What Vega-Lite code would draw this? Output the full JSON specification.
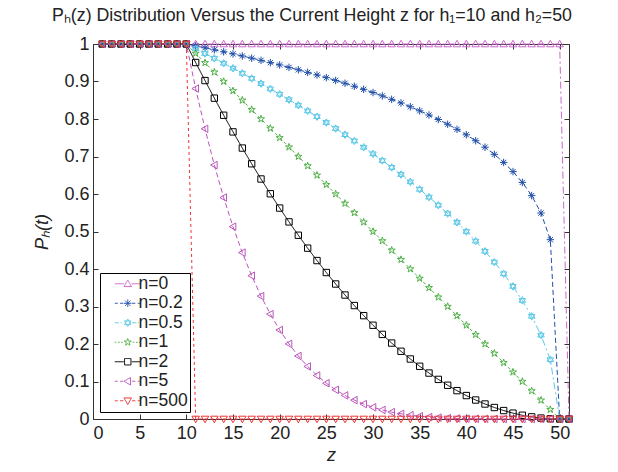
{
"$schema":"https://vega.github.io/schema/vega-lite/v6.json",
"width":476,"height":375,
"autosize":{"type":"none"},
"padding":{"left":93,"top":44,"right":49,"bottom":53},
"background":"white",
"config":{
 "font":"Liberation Sans",
 "view":{"stroke":null},
 "axis":{"grid":false,"domainColor":"#333333","tickColor":"#333333","labelColor":"#222222","labelFontSize":18,"labelFont":"Liberation Sans","tickSize":-5,"titleFont":"Liberation Sans","titleFontSize":18,"titleFontWeight":"normal","titleColor":"#222222","titleFontStyle":"italic"},
 "legend":{"orient":"bottom-left","offset":7,"fillColor":"white","strokeColor":"black","padding":2,"labelFontSize":17.5,"labelFont":"Liberation Sans","labelColor":"#222222","symbolSize":64,"symbolStrokeWidth":1,"symbolOffset":17,"labelOffset":2,"rowPadding":0.5,"cornerRadius":0}
},
"title":{"text":"Pₕ(z) Distribution Versus the Current Height z for h₁=10 and h₂=50","fontSize":17.8,"fontWeight":"normal","font":"Liberation Sans","anchor":"middle","frame":"group","dx":-19,"offset":10,"color":"#222222"},
"data":{"values":[
{"n":"n=0","z":1,"p":1},{"n":"n=0","z":2,"p":1},{"n":"n=0","z":3,"p":1},{"n":"n=0","z":4,"p":1},{"n":"n=0","z":5,"p":1},{"n":"n=0","z":6,"p":1},{"n":"n=0","z":7,"p":1},{"n":"n=0","z":8,"p":1},{"n":"n=0","z":9,"p":1},{"n":"n=0","z":10,"p":1},
{"n":"n=0","z":11,"p":1},{"n":"n=0","z":12,"p":1},{"n":"n=0","z":13,"p":1},{"n":"n=0","z":14,"p":1},{"n":"n=0","z":15,"p":1},{"n":"n=0","z":16,"p":1},{"n":"n=0","z":17,"p":1},{"n":"n=0","z":18,"p":1},{"n":"n=0","z":19,"p":1},{"n":"n=0","z":20,"p":1},
{"n":"n=0","z":21,"p":1},{"n":"n=0","z":22,"p":1},{"n":"n=0","z":23,"p":1},{"n":"n=0","z":24,"p":1},{"n":"n=0","z":25,"p":1},{"n":"n=0","z":26,"p":1},{"n":"n=0","z":27,"p":1},{"n":"n=0","z":28,"p":1},{"n":"n=0","z":29,"p":1},{"n":"n=0","z":30,"p":1},
{"n":"n=0","z":31,"p":1},{"n":"n=0","z":32,"p":1},{"n":"n=0","z":33,"p":1},{"n":"n=0","z":34,"p":1},{"n":"n=0","z":35,"p":1},{"n":"n=0","z":36,"p":1},{"n":"n=0","z":37,"p":1},{"n":"n=0","z":38,"p":1},{"n":"n=0","z":39,"p":1},{"n":"n=0","z":40,"p":1},
{"n":"n=0","z":41,"p":1},{"n":"n=0","z":42,"p":1},{"n":"n=0","z":43,"p":1},{"n":"n=0","z":44,"p":1},{"n":"n=0","z":45,"p":1},{"n":"n=0","z":46,"p":1},{"n":"n=0","z":47,"p":1},{"n":"n=0","z":48,"p":1},{"n":"n=0","z":49,"p":1},{"n":"n=0","z":50,"p":1},{"n":"n=0","z":51,"p":0},
{"n":"n=0.2","z":1,"p":1},{"n":"n=0.2","z":2,"p":1},{"n":"n=0.2","z":3,"p":1},{"n":"n=0.2","z":4,"p":1},{"n":"n=0.2","z":5,"p":1},{"n":"n=0.2","z":6,"p":1},{"n":"n=0.2","z":7,"p":1},{"n":"n=0.2","z":8,"p":1},{"n":"n=0.2","z":9,"p":1},{"n":"n=0.2","z":10,"p":1},
{"n":"n=0.2","z":11,"p":0.99495},{"n":"n=0.2","z":12,"p":0.98979},{"n":"n=0.2","z":13,"p":0.98453},{"n":"n=0.2","z":14,"p":0.97915},{"n":"n=0.2","z":15,"p":0.97365},{"n":"n=0.2","z":16,"p":0.96802},{"n":"n=0.2","z":17,"p":0.96226},{"n":"n=0.2","z":18,"p":0.95635},{"n":"n=0.2","z":19,"p":0.9503},{"n":"n=0.2","z":20,"p":0.94409},
{"n":"n=0.2","z":21,"p":0.93771},{"n":"n=0.2","z":22,"p":0.93115},{"n":"n=0.2","z":23,"p":0.9244},{"n":"n=0.2","z":24,"p":0.91745},{"n":"n=0.2","z":25,"p":0.91028},{"n":"n=0.2","z":26,"p":0.90288},{"n":"n=0.2","z":27,"p":0.89523},{"n":"n=0.2","z":28,"p":0.8873},{"n":"n=0.2","z":29,"p":0.87909},{"n":"n=0.2","z":30,"p":0.87055},
{"n":"n=0.2","z":31,"p":0.86167},{"n":"n=0.2","z":32,"p":0.8524},{"n":"n=0.2","z":33,"p":0.84271},{"n":"n=0.2","z":34,"p":0.83255},{"n":"n=0.2","z":35,"p":0.82188},{"n":"n=0.2","z":36,"p":0.81062},{"n":"n=0.2","z":37,"p":0.79869},{"n":"n=0.2","z":38,"p":0.786},{"n":"n=0.2","z":39,"p":0.77245},{"n":"n=0.2","z":40,"p":0.75786},
{"n":"n=0.2","z":41,"p":0.74206},{"n":"n=0.2","z":42,"p":0.72478},{"n":"n=0.2","z":43,"p":0.70568},{"n":"n=0.2","z":44,"p":0.68425},{"n":"n=0.2","z":45,"p":0.65975},{"n":"n=0.2","z":46,"p":0.63096},{"n":"n=0.2","z":47,"p":0.59569},{"n":"n=0.2","z":48,"p":0.54928},{"n":"n=0.2","z":49,"p":0.4782},{"n":"n=0.2","z":50,"p":0},{"n":"n=0.2","z":51,"p":0},
{"n":"n=0.5","z":1,"p":1},{"n":"n=0.5","z":2,"p":1},{"n":"n=0.5","z":3,"p":1},{"n":"n=0.5","z":4,"p":1},{"n":"n=0.5","z":5,"p":1},{"n":"n=0.5","z":6,"p":1},{"n":"n=0.5","z":7,"p":1},{"n":"n=0.5","z":8,"p":1},{"n":"n=0.5","z":9,"p":1},{"n":"n=0.5","z":10,"p":1},
{"n":"n=0.5","z":11,"p":0.98742},{"n":"n=0.5","z":12,"p":0.97468},{"n":"n=0.5","z":13,"p":0.96177},{"n":"n=0.5","z":14,"p":0.94868},{"n":"n=0.5","z":15,"p":0.93541},{"n":"n=0.5","z":16,"p":0.92195},{"n":"n=0.5","z":17,"p":0.9083},{"n":"n=0.5","z":18,"p":0.89443},{"n":"n=0.5","z":19,"p":0.88034},{"n":"n=0.5","z":20,"p":0.86603},
{"n":"n=0.5","z":21,"p":0.85147},{"n":"n=0.5","z":22,"p":0.83666},{"n":"n=0.5","z":23,"p":0.82158},{"n":"n=0.5","z":24,"p":0.80623},{"n":"n=0.5","z":25,"p":0.79057},{"n":"n=0.5","z":26,"p":0.7746},{"n":"n=0.5","z":27,"p":0.75829},{"n":"n=0.5","z":28,"p":0.74162},{"n":"n=0.5","z":29,"p":0.72457},{"n":"n=0.5","z":30,"p":0.70711},
{"n":"n=0.5","z":31,"p":0.6892},{"n":"n=0.5","z":32,"p":0.67082},{"n":"n=0.5","z":33,"p":0.65192},{"n":"n=0.5","z":34,"p":0.63246},{"n":"n=0.5","z":35,"p":0.61237},{"n":"n=0.5","z":36,"p":0.59161},{"n":"n=0.5","z":37,"p":0.57009},{"n":"n=0.5","z":38,"p":0.54772},{"n":"n=0.5","z":39,"p":0.5244},{"n":"n=0.5","z":40,"p":0.5},
{"n":"n=0.5","z":41,"p":0.47434},{"n":"n=0.5","z":42,"p":0.44721},{"n":"n=0.5","z":43,"p":0.41833},{"n":"n=0.5","z":44,"p":0.3873},{"n":"n=0.5","z":45,"p":0.35355},{"n":"n=0.5","z":46,"p":0.31623},{"n":"n=0.5","z":47,"p":0.27386},{"n":"n=0.5","z":48,"p":0.22361},{"n":"n=0.5","z":49,"p":0.15811},{"n":"n=0.5","z":50,"p":0},{"n":"n=0.5","z":51,"p":0},
{"n":"n=1","z":1,"p":1},{"n":"n=1","z":2,"p":1},{"n":"n=1","z":3,"p":1},{"n":"n=1","z":4,"p":1},{"n":"n=1","z":5,"p":1},{"n":"n=1","z":6,"p":1},{"n":"n=1","z":7,"p":1},{"n":"n=1","z":8,"p":1},{"n":"n=1","z":9,"p":1},{"n":"n=1","z":10,"p":1},
{"n":"n=1","z":11,"p":0.975},{"n":"n=1","z":12,"p":0.95},{"n":"n=1","z":13,"p":0.925},{"n":"n=1","z":14,"p":0.9},{"n":"n=1","z":15,"p":0.875},{"n":"n=1","z":16,"p":0.85},{"n":"n=1","z":17,"p":0.825},{"n":"n=1","z":18,"p":0.8},{"n":"n=1","z":19,"p":0.775},{"n":"n=1","z":20,"p":0.75},
{"n":"n=1","z":21,"p":0.725},{"n":"n=1","z":22,"p":0.7},{"n":"n=1","z":23,"p":0.675},{"n":"n=1","z":24,"p":0.65},{"n":"n=1","z":25,"p":0.625},{"n":"n=1","z":26,"p":0.6},{"n":"n=1","z":27,"p":0.575},{"n":"n=1","z":28,"p":0.55},{"n":"n=1","z":29,"p":0.525},{"n":"n=1","z":30,"p":0.5},
{"n":"n=1","z":31,"p":0.475},{"n":"n=1","z":32,"p":0.45},{"n":"n=1","z":33,"p":0.425},{"n":"n=1","z":34,"p":0.4},{"n":"n=1","z":35,"p":0.375},{"n":"n=1","z":36,"p":0.35},{"n":"n=1","z":37,"p":0.325},{"n":"n=1","z":38,"p":0.3},{"n":"n=1","z":39,"p":0.275},{"n":"n=1","z":40,"p":0.25},
{"n":"n=1","z":41,"p":0.225},{"n":"n=1","z":42,"p":0.2},{"n":"n=1","z":43,"p":0.175},{"n":"n=1","z":44,"p":0.15},{"n":"n=1","z":45,"p":0.125},{"n":"n=1","z":46,"p":0.1},{"n":"n=1","z":47,"p":0.075},{"n":"n=1","z":48,"p":0.05},{"n":"n=1","z":49,"p":0.025},{"n":"n=1","z":50,"p":0},{"n":"n=1","z":51,"p":0},
{"n":"n=2","z":1,"p":1},{"n":"n=2","z":2,"p":1},{"n":"n=2","z":3,"p":1},{"n":"n=2","z":4,"p":1},{"n":"n=2","z":5,"p":1},{"n":"n=2","z":6,"p":1},{"n":"n=2","z":7,"p":1},{"n":"n=2","z":8,"p":1},{"n":"n=2","z":9,"p":1},{"n":"n=2","z":10,"p":1},
{"n":"n=2","z":11,"p":0.950625},{"n":"n=2","z":12,"p":0.9025},{"n":"n=2","z":13,"p":0.855625},{"n":"n=2","z":14,"p":0.81},{"n":"n=2","z":15,"p":0.765625},{"n":"n=2","z":16,"p":0.7225},{"n":"n=2","z":17,"p":0.680625},{"n":"n=2","z":18,"p":0.64},{"n":"n=2","z":19,"p":0.600625},{"n":"n=2","z":20,"p":0.5625},
{"n":"n=2","z":21,"p":0.525625},{"n":"n=2","z":22,"p":0.49},{"n":"n=2","z":23,"p":0.455625},{"n":"n=2","z":24,"p":0.4225},{"n":"n=2","z":25,"p":0.390625},{"n":"n=2","z":26,"p":0.36},{"n":"n=2","z":27,"p":0.330625},{"n":"n=2","z":28,"p":0.3025},{"n":"n=2","z":29,"p":0.275625},{"n":"n=2","z":30,"p":0.25},
{"n":"n=2","z":31,"p":0.225625},{"n":"n=2","z":32,"p":0.2025},{"n":"n=2","z":33,"p":0.180625},{"n":"n=2","z":34,"p":0.16},{"n":"n=2","z":35,"p":0.140625},{"n":"n=2","z":36,"p":0.1225},{"n":"n=2","z":37,"p":0.105625},{"n":"n=2","z":38,"p":0.09},{"n":"n=2","z":39,"p":0.075625},{"n":"n=2","z":40,"p":0.0625},
{"n":"n=2","z":41,"p":0.050625},{"n":"n=2","z":42,"p":0.04},{"n":"n=2","z":43,"p":0.030625},{"n":"n=2","z":44,"p":0.0225},{"n":"n=2","z":45,"p":0.015625},{"n":"n=2","z":46,"p":0.01},{"n":"n=2","z":47,"p":0.005625},{"n":"n=2","z":48,"p":0.0025},{"n":"n=2","z":49,"p":0.000625},{"n":"n=2","z":50,"p":0},{"n":"n=2","z":51,"p":0},
{"n":"n=5","z":1,"p":1},{"n":"n=5","z":2,"p":1},{"n":"n=5","z":3,"p":1},{"n":"n=5","z":4,"p":1},{"n":"n=5","z":5,"p":1},{"n":"n=5","z":6,"p":1},{"n":"n=5","z":7,"p":1},{"n":"n=5","z":8,"p":1},{"n":"n=5","z":9,"p":1},{"n":"n=5","z":10,"p":1},
{"n":"n=5","z":11,"p":0.881096},{"n":"n=5","z":12,"p":0.773781},{"n":"n=5","z":13,"p":0.677187},{"n":"n=5","z":14,"p":0.59049},{"n":"n=5","z":15,"p":0.512909},{"n":"n=5","z":16,"p":0.443705},{"n":"n=5","z":17,"p":0.382181},{"n":"n=5","z":18,"p":0.32768},{"n":"n=5","z":19,"p":0.279582},{"n":"n=5","z":20,"p":0.237305},
{"n":"n=5","z":21,"p":0.200304},{"n":"n=5","z":22,"p":0.16807},{"n":"n=5","z":23,"p":0.140126},{"n":"n=5","z":24,"p":0.116029},{"n":"n=5","z":25,"p":0.095367},{"n":"n=5","z":26,"p":0.07776},{"n":"n=5","z":27,"p":0.062855},{"n":"n=5","z":28,"p":0.050328},{"n":"n=5","z":29,"p":0.039884},{"n":"n=5","z":30,"p":0.03125},
{"n":"n=5","z":31,"p":0.024181},{"n":"n=5","z":32,"p":0.018453},{"n":"n=5","z":33,"p":0.013866},{"n":"n=5","z":34,"p":0.01024},{"n":"n=5","z":35,"p":0.007416},{"n":"n=5","z":36,"p":0.005252},{"n":"n=5","z":37,"p":0.003626},{"n":"n=5","z":38,"p":0.00243},{"n":"n=5","z":39,"p":0.001573},{"n":"n=5","z":40,"p":0.000977},
{"n":"n=5","z":41,"p":0.000577},{"n":"n=5","z":42,"p":0.00032},{"n":"n=5","z":43,"p":0.000164},{"n":"n=5","z":44,"p":0.000076},{"n":"n=5","z":45,"p":0.000031},{"n":"n=5","z":46,"p":0.00001},{"n":"n=5","z":47,"p":0.000002},{"n":"n=5","z":48,"p":0},{"n":"n=5","z":49,"p":0},{"n":"n=5","z":50,"p":0},{"n":"n=5","z":51,"p":0},
{"n":"n=500","z":1,"p":1},{"n":"n=500","z":2,"p":1},{"n":"n=500","z":3,"p":1},{"n":"n=500","z":4,"p":1},{"n":"n=500","z":5,"p":1},{"n":"n=500","z":6,"p":1},{"n":"n=500","z":7,"p":1},{"n":"n=500","z":8,"p":1},{"n":"n=500","z":9,"p":1},{"n":"n=500","z":10,"p":1},
{"n":"n=500","z":11,"p":0},{"n":"n=500","z":12,"p":0},{"n":"n=500","z":13,"p":0},{"n":"n=500","z":14,"p":0},{"n":"n=500","z":15,"p":0},{"n":"n=500","z":16,"p":0},{"n":"n=500","z":17,"p":0},{"n":"n=500","z":18,"p":0},{"n":"n=500","z":19,"p":0},{"n":"n=500","z":20,"p":0},
{"n":"n=500","z":21,"p":0},{"n":"n=500","z":22,"p":0},{"n":"n=500","z":23,"p":0},{"n":"n=500","z":24,"p":0},{"n":"n=500","z":25,"p":0},{"n":"n=500","z":26,"p":0},{"n":"n=500","z":27,"p":0},{"n":"n=500","z":28,"p":0},{"n":"n=500","z":29,"p":0},{"n":"n=500","z":30,"p":0},
{"n":"n=500","z":31,"p":0},{"n":"n=500","z":32,"p":0},{"n":"n=500","z":33,"p":0},{"n":"n=500","z":34,"p":0},{"n":"n=500","z":35,"p":0},{"n":"n=500","z":36,"p":0},{"n":"n=500","z":37,"p":0},{"n":"n=500","z":38,"p":0},{"n":"n=500","z":39,"p":0},{"n":"n=500","z":40,"p":0},
{"n":"n=500","z":41,"p":0},{"n":"n=500","z":42,"p":0},{"n":"n=500","z":43,"p":0},{"n":"n=500","z":44,"p":0},{"n":"n=500","z":45,"p":0},{"n":"n=500","z":46,"p":0},{"n":"n=500","z":47,"p":0},{"n":"n=500","z":48,"p":0},{"n":"n=500","z":49,"p":0},{"n":"n=500","z":50,"p":0},{"n":"n=500","z":51,"p":0}
]},
"layer":[
 {"mark":{"type":"line","strokeWidth":1,"clip":false},
  "encoding":{
   "x":{"field":"z","type":"quantitative","scale":{"domain":[0,51],"nice":false,"zero":false},"axis":{"orient":"bottom","values":[0,5,10,15,20,25,30,35,40,45,50],"title":"z","labelPadding":10,"titlePadding":4}},
   "y":{"field":"p","type":"quantitative","scale":{"domain":[0,1],"nice":false},"axis":{"orient":"left","values":[0,0.1,0.2,0.3,0.4,0.5,0.6,0.7,0.8,0.9,1],"format":"~g","title":"Pₕ(t)","labelPadding":9,"titlePadding":12}},
   "color":{"field":"n","type":"nominal","scale":{"domain":["n=0","n=0.2","n=0.5","n=1","n=2","n=5","n=500"],"range":["#cc66cc","#1f4fa8","#5cc8e6","#4fb046","#000000","#bb55bb","#ee3333"]},
     "legend":{"title":null,"encode":{"symbols":{"update":{
       "shape":{"signal":"datum.value === 'n=0' ? 'M-3.25,0L-1,0M1,0L3.25,0M0,-0.94L0.94,0.7L-0.94,0.7Z' : datum.value === 'n=0.2' ? 'M-3.25,0L-2.5,0M-1.9,0L-1.1,0M1.1,0L1.9,0M2.5,0L3.25,0M-0.94,0L0.94,0M0,-0.94L0,0.94M-0.66,-0.66L0.66,0.66M-0.66,0.66L0.66,-0.66' : datum.value === 'n=0.5' ? 'M-3.25,0L-2.2,0M-1.8,0L-1.6,0M1.1,0L2.2,0M2.6,0L2.8,0M0,-0.94L0.81,0.47L-0.81,0.47ZM0,0.94L0.81,-0.47L-0.81,-0.47Z' : datum.value === 'n=1' ? 'M-3.25,0L-2.85,0M-2.45,0L-2.05,0M-1.65,0L-1.25,0M1.25,0L1.65,0M2.05,0L2.45,0M2.85,0L3.25,0M0,-0.94L0.212,-0.29L0.894,-0.29L0.341,0.111L0.553,0.76L0,0.359L-0.553,0.76L-0.341,0.111L-0.894,-0.29L-0.212,-0.29Z' : datum.value === 'n=2' ? 'M-3.25,0L-1,0M1,0L3.25,0M-0.8,-0.8L0.8,-0.8L0.8,0.8L-0.8,0.8Z' : datum.value === 'n=5' ? 'M-3.25,0L-2.5,0M-1.9,0L-1.1,0M1.1,0L1.9,0M2.5,0L3.25,0M-0.94,0L0.7,-0.94L0.7,0.94Z' : 'M-3.25,0L-2.5,0M-1.9,0L-1.1,0M1.1,0L1.9,0M2.5,0L3.25,0M0,0.94L0.94,-0.7L-0.94,-0.7Z'"},
       "fill":{"value":"transparent"},"strokeDash":{"value":[1,0]},"strokeWidth":{"value":1},"opacity":{"value":1}}}}}},
   "strokeDash":{"field":"n","type":"nominal","scale":{"domain":["n=500","n=5","n=2","n=1","n=0.5","n=0.2","n=0"],"range":[[3,3],[5,3],[1,0],[3,3],[7,3,2,3],[5,3],[7,3,2,3]]},"legend":null}
  }},
 {"mark":{"type":"point","filled":false,"size":56,"strokeWidth":1,"opacity":1,"clip":false},
  "encoding":{
   "x":{"field":"z","type":"quantitative","scale":{"domain":[0,51],"nice":false,"zero":false},"axis":{"orient":"top","values":[0,5,10,15,20,25,30,35,40,45,50],"labels":false,"title":null}},
   "y":{"field":"p","type":"quantitative","scale":{"domain":[0,1],"nice":false},"axis":{"orient":"right","values":[0,0.1,0.2,0.3,0.4,0.5,0.6,0.7,0.8,0.9,1],"labels":false,"title":null}},
   "color":{"field":"n","type":"nominal","scale":{"domain":["n=0","n=0.2","n=0.5","n=1","n=2","n=5","n=500"],"range":["#cc66cc","#1f4fa8","#5cc8e6","#4fb046","#000000","#bb55bb","#ee3333"]}},
   "shape":{"field":"n","type":"nominal","scale":{"domain":["n=500","n=5","n=2","n=1","n=0.5","n=0.2","n=0"],"range":["M0,1L1,-0.75L-1,-0.75Z","M-1,0L0.75,-1L0.75,1Z","M-0.85,-0.85L0.85,-0.85L0.85,0.85L-0.85,0.85Z","M0,-1L0.225,-0.309L0.951,-0.309L0.363,0.118L0.588,0.809L0,0.382L-0.588,0.809L-0.363,0.118L-0.951,-0.309L-0.225,-0.309Z","M0,-1L0.866,0.5L-0.866,0.5ZM0,1L0.866,-0.5L-0.866,-0.5Z","M-1,0L1,0M0,-1L0,1M-0.7,-0.7L0.7,0.7M-0.7,0.7L0.7,-0.7","M0,-1L1,0.75L-1,0.75Z"]},"legend":null}
  }}
],
"resolve":{"scale":{"x":"independent","y":"independent"}}
}
